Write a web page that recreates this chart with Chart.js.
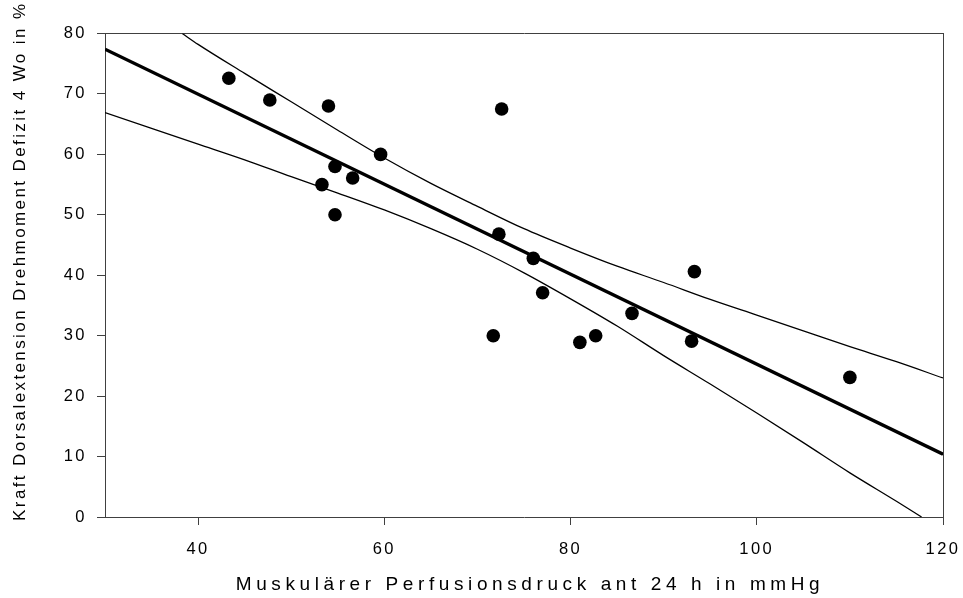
<!DOCTYPE html>
<html>
<head>
<meta charset="utf-8">
<script src="https://cdn.jsdelivr.net/npm/chart.js@4.4.1/dist/chart.umd.min.js"></script>
<style>
  html, body { margin: 0; padding: 0; background: #ffffff; }
  #wrap { width: 963px; height: 598px; position: relative; }
</style>
</head>
<body>
<div id="wrap"><canvas id="c" width="963" height="598"></canvas></div>
<script>
// ---- data ----
const pressure = [43.3, 47.7, 54.0, 72.6, 59.6, 54.7, 56.6, 53.3, 54.7, 72.3, 76.0, 77.0, 93.3, 86.6, 71.7, 81.0, 82.7, 93.0, 110.0];
const deficit  = [72.6, 69.0, 68.0, 67.5, 60.0, 58.0, 56.1, 55.0, 50.0, 46.8, 42.8, 37.1, 40.6, 33.7, 30.0, 28.9, 30.0, 29.1, 23.1];

const fitX = [30, 120];
const fitY = [77.4, 10.4];

const upperX = [38.3, 40, 45, 50, 55, 60, 65, 70, 75, 80, 85, 90, 95, 100, 105, 110, 115, 120];
const upperY = [80.0, 78.2, 73.4, 68.7, 64.0, 59.4, 55.2, 51.4, 47.7, 44.5, 41.5, 38.8, 36.0, 33.4, 30.8, 28.2, 25.7, 23.0];

const lowerX = [30, 35, 40, 45, 50, 55, 60, 65, 70, 75, 80, 85, 90, 95, 100, 105, 110, 115, 117.7];
const lowerY = [66.9, 64.3, 61.7, 59.1, 56.3, 53.6, 50.8, 47.7, 44.3, 40.4, 36.1, 31.6, 26.7, 22.0, 17.2, 12.3, 7.3, 2.6, 0.0];

const xTicks = [40, 60, 80, 100, 120];
const yTicks = [0, 10, 20, 30, 40, 50, 60, 70, 80];

const xTitle = 'Muskulärer Perfusionsdruck ant 24 h in mmHg';
const yTitle = 'Kraft Dorsalextension Drehmoment Defizit 4 Wo in %';

// ---- build ----
const toPts = (xs, ys) => xs.map((x, i) => ({ x: x, y: ys[i] }));
const AXIS = '#404040';
const FONT = "'Liberation Sans', Arial, sans-serif";

const textTweaks = {
  id: 'textTweaks',
  beforeDraw(chart) {
    const cfgs = {
      x: { label: '2.5px', title: '4.6px', dx: 6, dy: 0 },
      y: { label: '2.5px', title: '2.4px', dx: 0, dy: -14 }
    };
    for (const id of Object.keys(cfgs)) {
      const s = chart.scales[id];
      const cfg = cfgs[id];
      if (!s || s.__tw) continue;
      const oL = s.drawLabels, oT = s.drawTitle;
      s.drawLabels = function (...a) { const c = this.ctx; c.save(); c.letterSpacing = cfg.label; oL.apply(this, a); c.restore(); };
      s.drawTitle = function (...a) { const c = this.ctx; c.save(); c.letterSpacing = cfg.title; c.translate(cfg.dx, cfg.dy); oT.apply(this, a); c.restore(); };
      s.__tw = true;
    }
  }
};

new Chart(document.getElementById('c'), {
  type: 'scatter',
  data: {
    datasets: [
      {
        label: 'Messwerte',
        data: toPts(pressure, deficit),
        pointRadius: 6.8,
        pointHoverRadius: 6.8,
        pointBackgroundColor: '#000000',
        pointBorderColor: '#000000',
        pointBorderWidth: 0,
        showLine: false
      },
      {
        label: 'Regression',
        data: toPts(fitX, fitY),
        showLine: true,
        borderColor: '#000000',
        borderWidth: 3.4,
        pointRadius: 0,
        fill: false
      },
      {
        label: 'Konfidenz oben',
        data: toPts(upperX, upperY),
        showLine: true,
        borderColor: '#000000',
        borderWidth: 1.3,
        pointRadius: 0,
        cubicInterpolationMode: 'monotone',
        fill: false
      },
      {
        label: 'Konfidenz unten',
        data: toPts(lowerX, lowerY),
        showLine: true,
        borderColor: '#000000',
        borderWidth: 1.3,
        pointRadius: 0,
        cubicInterpolationMode: 'monotone',
        fill: false
      }
    ]
  },
  options: {
    responsive: false,
    animation: false,
    events: [],
    layout: { padding: { top: 33.5, right: 20, bottom: 0, left: 0 } },
    plugins: { legend: { display: false }, tooltip: { enabled: false } },
    scales: {
      x: {
        type: 'linear',
        position: 'bottom',
        min: 30, max: 120,
        afterBuildTicks: (s) => { s.ticks = xTicks.map(v => ({ value: v })); },
        afterFit: (s) => { s.height = 81; s.paddingLeft = 0; s.paddingRight = 0; },
        grid: { display: true, drawOnChartArea: false, drawTicks: true, tickLength: 8, color: AXIS, lineWidth: 1 },
        border: { display: true, color: AXIS, width: 1 },
        ticks: { color: '#000000', font: { family: FONT, size: 16.5 }, padding: 15, maxRotation: 0 },
        title: { display: true, text: xTitle, color: '#000000', font: { family: FONT, size: 19 }, padding: { top: 0, bottom: 2 } }
      },
      y: {
        type: 'linear',
        position: 'left',
        min: 0, max: 80,
        afterBuildTicks: (s) => { s.ticks = yTicks.map(v => ({ value: v })); },
        afterFit: (s) => { s.width = 105; s.paddingTop = 0; s.paddingBottom = 0; },
        grid: { display: true, drawOnChartArea: false, drawTicks: true, tickLength: 8, color: AXIS, lineWidth: 1 },
        border: { display: true, color: AXIS, width: 1 },
        ticks: { color: '#000000', font: { family: FONT, size: 16.5 }, padding: 10 },
        title: { display: true, text: yTitle, color: '#000000', font: { family: FONT, size: 17 }, padding: { top: 10, bottom: 0 } }
      },
      x2: {
        type: 'linear',
        position: 'top',
        min: 30, max: 120,
        afterFit: (s) => { s.height = 0; s.paddingLeft = 0; s.paddingRight = 0; },
        grid: { display: false },
        border: { display: true, color: AXIS, width: 1 },
        ticks: { display: false }
      },
      y2: {
        type: 'linear',
        position: 'right',
        min: 0, max: 80,
        afterFit: (s) => { s.width = 0; s.paddingTop = 0; s.paddingBottom = 0; },
        grid: { display: false },
        border: { display: true, color: AXIS, width: 1 },
        ticks: { display: false }
      }
    }
  },
  plugins: [textTweaks]
});
</script>
</body>
</html>
